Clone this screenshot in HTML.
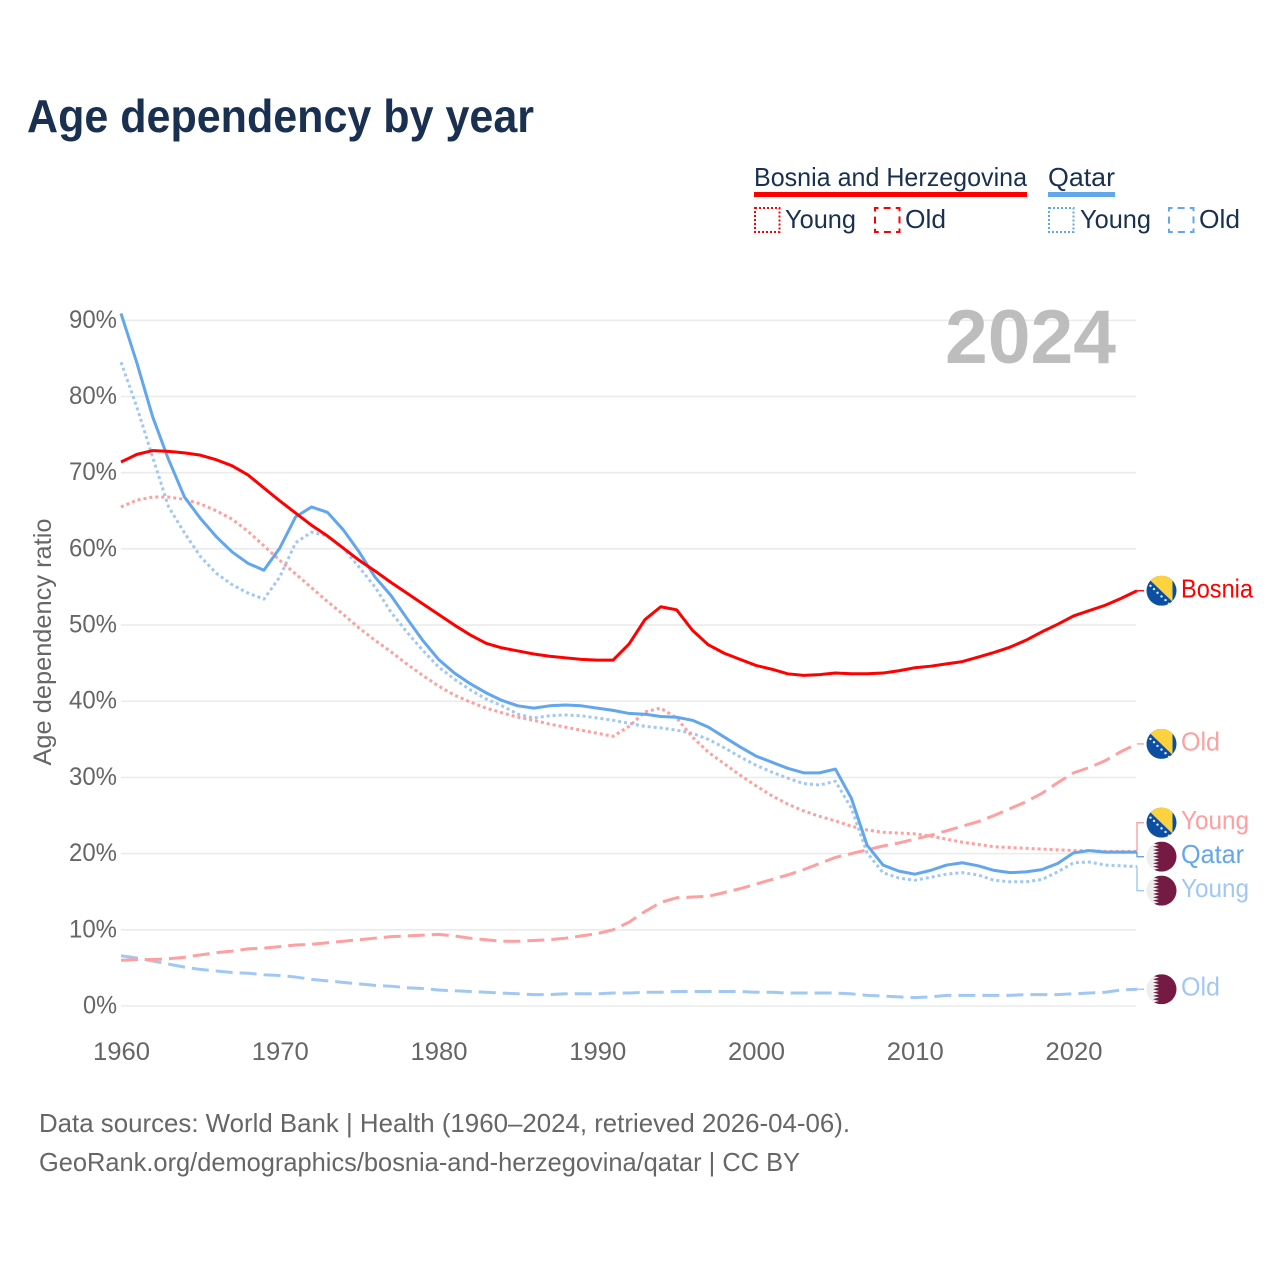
<!DOCTYPE html>
<html lang="en">
<head>
<meta charset="utf-8">
<title>Age dependency by year</title>
<style>
  html, body { margin: 0; padding: 0; background: #fff; }
  svg { display: block; font-family: "Liberation Sans", sans-serif; }
</style>
</head>
<body>
<svg id="chart" xmlns="http://www.w3.org/2000/svg" width="1280" height="1280" viewBox="0 0 1280 1280">
  <defs>
    <clipPath id="flag-clip"><circle cx="0" cy="0" r="15"/></clipPath>
    <g id="flag-bosnia" clip-path="url(#flag-clip)">
      <rect x="-15" y="-15" width="30" height="30" fill="#0b4ea2"/>
      <polygon points="-15,-14 -13,-15 11,-15 11,11" fill="#fdd23e"/>
      <g fill="#e8eef8">
        <circle cx="-11" cy="-5" r="1.2"/><circle cx="-7.5" cy="-1.7" r="1.2"/><circle cx="-4" cy="2" r="1.2"/>
        <circle cx="0" cy="5.7" r="1.2"/><circle cx="4" cy="9.3" r="1.2"/><circle cx="7.5" cy="13" r="1.2"/>
      </g>
    </g>
    <g id="flag-qatar" clip-path="url(#flag-clip)">
      <rect x="-15" y="-15" width="30" height="30" fill="#eeeeee"/>
      <polygon fill="#751a43" points="15,-15 -2.5,-15 -8.5,-13.3 -2.5,-11.7 -8.5,-10 -2.5,-8.3 -8.5,-6.7 -2.5,-5 -8.5,-3.3 -2.5,-1.7 -8.5,0 -2.5,1.7 -8.5,3.3 -2.5,5 -8.5,6.7 -2.5,8.3 -8.5,10 -2.5,11.7 -8.5,13.3 -2.5,15 15,15"/>
    </g>
  </defs>

  <text x="27" y="132" font-size="46" font-weight="700" fill="#1a3050" textLength="507" lengthAdjust="spacingAndGlyphs">Age dependency by year</text>

  <g>
    <text x="754" y="186" font-size="26" fill="#1a3050" textLength="273" lengthAdjust="spacingAndGlyphs">Bosnia and Herzegovina</text>
    <rect x="754" y="192" width="273" height="5" fill="#ff0000"/>
    <text x="1048" y="186" font-size="26" fill="#1a3050" textLength="67" lengthAdjust="spacingAndGlyphs">Qatar</text>
    <rect x="1048" y="192" width="67" height="5" fill="#62a6ec"/>

    <rect x="755" y="208" width="24.5" height="24" fill="none" stroke="#ff0000" stroke-width="2" stroke-dasharray="2 2"/>
    <text x="785" y="228" font-size="26" fill="#1a3050" textLength="71" lengthAdjust="spacingAndGlyphs">Young</text>
    <rect x="875" y="208" width="24.5" height="24" fill="none" stroke="#ff0000" stroke-width="2" stroke-dasharray="7 5.12" stroke-dashoffset="3.5"/>
    <text x="905" y="228" font-size="26" fill="#1a3050" textLength="41" lengthAdjust="spacingAndGlyphs">Old</text>

    <rect x="1049" y="208" width="24.5" height="24" fill="none" stroke="#62a6ec" stroke-width="2" stroke-dasharray="2 2"/>
    <text x="1080" y="228" font-size="26" fill="#1a3050" textLength="71" lengthAdjust="spacingAndGlyphs">Young</text>
    <rect x="1169" y="208" width="24.5" height="24" fill="none" stroke="#62a6ec" stroke-width="2" stroke-dasharray="7 5.12" stroke-dashoffset="3.5"/>
    <text x="1199" y="228" font-size="26" fill="#1a3050" textLength="41" lengthAdjust="spacingAndGlyphs">Old</text>
  </g>

  <g id="grid"></g>
  <g id="y-ticks"></g>
  <g id="x-ticks"></g>

  <text transform="translate(51 642) rotate(-90)" text-anchor="middle" font-size="25" fill="#666666" textLength="247" lengthAdjust="spacingAndGlyphs">Age dependency ratio</text>

  <text x="945" y="363" font-size="76" font-weight="700" fill="#bdbdbd" textLength="171" lengthAdjust="spacingAndGlyphs">2024</text>

  <g id="series"></g>
  <g id="end-labels"></g>

  <text x="39" y="1132" font-size="26" fill="#666666" textLength="811" lengthAdjust="spacingAndGlyphs">Data sources: World Bank | Health (1960–2024, retrieved 2026-04-06).</text>
  <text x="39" y="1171" font-size="26" fill="#666666" textLength="761" lengthAdjust="spacingAndGlyphs">GeoRank.org/demographics/bosnia-and-herzegovina/qatar | CC BY</text>
</svg>

<script>
const startYear = 1960;
const endYear = 2024;
const yTickValues = [0, 10, 20, 30, 40, 50, 60, 70, 80, 90];
const xTickValues = [1960, 1970, 1980, 1990, 2000, 2010, 2020];

const bosniaTotal = [
  71.4, 72.4, 72.9, 72.8, 72.6, 72.3, 71.7, 70.9, 69.7, 68.0,
  66.3, 64.7, 63.1, 61.7, 60.1, 58.5, 57.1, 55.6, 54.2, 52.8,
  51.4, 50.0, 48.7, 47.6, 47.0, 46.6, 46.2, 45.9, 45.7, 45.5,
  45.4, 45.4, 47.5, 50.7, 52.4, 52.0, 49.3, 47.4, 46.3, 45.5,
  44.7, 44.2, 43.6, 43.4, 43.5, 43.7, 43.6, 43.6, 43.7, 44.0,
  44.4, 44.6, 44.9, 45.2, 45.8, 46.4, 47.1, 48.0, 49.1, 50.1,
  51.2, 51.9, 52.6, 53.5, 54.5
];
const bosniaYoung = [
  65.5, 66.4, 66.8, 66.8, 66.5, 65.9, 65.0, 63.9, 62.3, 60.4,
  58.5, 56.7, 54.9, 53.1, 51.4, 49.6, 48.0, 46.5, 44.9, 43.4,
  42.0, 40.8, 39.9, 39.1, 38.5, 37.9, 37.5, 37.0, 36.6, 36.2,
  35.8, 35.4, 36.7, 38.6, 39.1, 37.8, 35.3, 33.3, 31.8, 30.3,
  28.9, 27.6, 26.5, 25.6, 24.9, 24.3, 23.6, 23.1, 22.8, 22.7,
  22.6, 22.3, 21.9, 21.5, 21.2, 20.9, 20.8, 20.7, 20.6, 20.5,
  20.4, 20.4, 20.3, 20.3, 20.3
];
const bosniaOld = [
  6.0, 6.1, 6.1, 6.2, 6.4, 6.7, 7.0, 7.2, 7.5, 7.6,
  7.8, 8.0, 8.1, 8.3, 8.5, 8.7, 8.9, 9.1, 9.2, 9.3,
  9.4, 9.2, 8.9, 8.7, 8.5, 8.5, 8.6, 8.7, 8.9, 9.2,
  9.5, 10.0, 11.0, 12.4, 13.6, 14.2, 14.3, 14.4, 14.9, 15.4,
  16.0, 16.6, 17.2, 17.9, 18.7, 19.5, 20.0, 20.5, 21.0, 21.4,
  21.9, 22.4, 23.0, 23.6, 24.2, 25.0, 25.9, 26.8, 27.9, 29.3,
  30.6, 31.3, 32.2, 33.4, 34.4
];
const qatarTotal = [
  90.9, 84.4, 77.3, 71.7, 66.8, 64.0, 61.6, 59.6, 58.1, 57.2,
  60.1, 64.2, 65.5, 64.8, 62.5, 59.6, 56.3, 53.9, 50.9, 48.0,
  45.5, 43.7, 42.3, 41.1, 40.1, 39.4, 39.1, 39.4, 39.5, 39.4,
  39.1, 38.8, 38.4, 38.3, 38.0, 37.9, 37.5, 36.6, 35.3, 34.0,
  32.8, 32.0, 31.2, 30.6, 30.6, 31.1, 27.3, 21.1, 18.5, 17.7,
  17.3, 17.8, 18.5, 18.8, 18.4, 17.8, 17.5, 17.6, 17.9, 18.7,
  20.1, 20.4, 20.2, 20.2, 20.2
];
const qatarYoung = [
  84.5, 78.6, 72.0, 65.5, 62.1, 59.0, 56.8, 55.3, 54.2, 53.4,
  56.3, 60.8, 62.2, 61.7, 60.1, 57.6, 55.0, 51.7, 49.1, 46.7,
  44.5, 42.9, 41.5, 40.3, 39.4, 38.3, 37.8, 38.1, 38.2, 38.1,
  37.8, 37.5, 37.1, 36.7, 36.5, 36.2, 35.8, 35.0, 33.9, 32.7,
  31.6, 30.7, 29.9, 29.2, 29.0, 29.5, 26.0, 20.1, 17.5, 16.8,
  16.5, 16.9, 17.3, 17.5, 17.2, 16.5, 16.3, 16.3, 16.6, 17.6,
  18.8, 18.9, 18.5, 18.4, 18.3
];
const qatarOld = [
  6.6, 6.3, 5.9, 5.5, 5.1, 4.8, 4.6, 4.4, 4.3, 4.1,
  4.0, 3.8, 3.5, 3.3, 3.1, 2.9, 2.7, 2.6, 2.4, 2.3,
  2.1, 2.0, 1.9, 1.8, 1.7, 1.6, 1.5, 1.5, 1.6, 1.6,
  1.6, 1.7, 1.7, 1.8, 1.8, 1.9, 1.9, 1.9, 1.9, 1.9,
  1.8, 1.8, 1.7, 1.7, 1.7, 1.7, 1.6, 1.4, 1.3, 1.2,
  1.1, 1.2, 1.4, 1.4, 1.4, 1.4, 1.4, 1.5, 1.5, 1.5,
  1.6, 1.7, 1.8, 2.1, 2.2
];

const SVG_NS = 'http://www.w3.org/2000/svg';
function xScale(year) { return 121 + (year - startYear) * (1137 - 121) / (endYear - startYear); }
function yScale(value) { return 1006 - value * 7.619; }
function make(tag, attrs, parent) {
  const el = document.createElementNS(SVG_NS, tag);
  Object.keys(attrs).forEach(function (k) { el.setAttribute(k, attrs[k]); });
  parent.appendChild(el);
  return el;
}

const gridGroup = document.getElementById('grid');
const yTickGroup = document.getElementById('y-ticks');
yTickValues.forEach(function (v) {
  const line = make('line', { x1: 121, x2: 1136, y1: yScale(v), y2: yScale(v), stroke: '#ebebeb', 'stroke-width': 1.6 }, gridGroup);
  
  
  const tickWidth = String(v).length === 1 ? 34 : 48;
  const label = make('text', { x: 117, y: yScale(v) + 7.5, 'text-anchor': 'end', 'font-size': 25, fill: '#666666', textLength: tickWidth, lengthAdjust: 'spacingAndGlyphs' }, yTickGroup);
  label.textContent = v + '%';
  
  
});

const xTickGroup = document.getElementById('x-ticks');
xTickValues.forEach(function (year) {
  const label = make('text', { x: xScale(year) + 0.5, y: 1060, 'text-anchor': 'middle', 'font-size': 25, fill: '#666666', textLength: 57, lengthAdjust: 'spacingAndGlyphs' }, xTickGroup);
  label.textContent = year;
  
  
});

const DOTTED = '3 3';
const DASHED = '17 7';
const seriesDefs = [
  { key: 'qatar-old', values: qatarOld, color: '#a1c8f3', dash: DASHED, width: 3, label: 'Old', flag: 'flag-qatar', labelWidth: 39 },
  { key: 'bosnia-old', values: bosniaOld, color: '#ff9f9f', dash: DASHED, width: 3, label: 'Old', flag: 'flag-bosnia', labelWidth: 39 },
  { key: 'qatar-young', values: qatarYoung, color: '#a1c8f3', dash: DOTTED, width: 3, label: 'Young', flag: 'flag-qatar', labelWidth: 68 },
  { key: 'bosnia-young', values: bosniaYoung, color: '#ff9f9f', dash: DOTTED, width: 3, label: 'Young', flag: 'flag-bosnia', labelWidth: 68 },
  { key: 'qatar-total', values: qatarTotal, color: '#62a6ec', dash: null, width: 3, label: 'Qatar', flag: 'flag-qatar', labelWidth: 63 },
  { key: 'bosnia-total', values: bosniaTotal, color: '#ff0000', dash: null, width: 3, label: 'Bosnia', flag: 'flag-bosnia', labelWidth: 72 }
];

const seriesGroup = document.getElementById('series');
seriesDefs.forEach(function (s) {
  const d = s.values.map(function (v, i) {
    return (i ? 'L' : 'M') + xScale(startYear + i).toFixed(2) + ' ' + yScale(v).toFixed(2);
  }).join(' ');
  const attrs = { d: d, fill: 'none', stroke: s.color, 'stroke-width': s.width, 'stroke-linejoin': 'round' };
  if (s.dash) attrs['stroke-dasharray'] = s.dash;
  const path = make('path', attrs, seriesGroup);
  
  
});

/* End labels: keep label spacing readable by pushing overlapping labels apart */
const LABEL_GAP = 34;
const ordered = seriesDefs.map(function (s) {
  return { s: s, lineY: yScale(s.values[s.values.length - 1]) };
}).sort(function (a, b) { return a.lineY - b.lineY; });

let clusters = ordered.map(function (o) { return { items: [o], mean: o.lineY }; });
let merged = true;
while (merged) {
  merged = false;
  for (let i = 0; i < clusters.length - 1; i++) {
    const a = clusters[i], b = clusters[i + 1];
    const aEnd = a.mean + (a.items.length - 1) * LABEL_GAP / 2;
    const bStart = b.mean - (b.items.length - 1) * LABEL_GAP / 2;
    if (bStart - aEnd < LABEL_GAP) {
      const items = a.items.concat(b.items);
      const mean = items.reduce(function (t, o) { return t + o.lineY; }, 0) / items.length;
      clusters.splice(i, 2, { items: items, mean: mean });
      merged = true;
      break;
    }
  }
}

const labelGroup = document.getElementById('end-labels');
const endX = xScale(endYear);
clusters.forEach(function (c) {
  c.items.forEach(function (o, i) {
    const labelY = c.mean + (i - (c.items.length - 1) / 2) * LABEL_GAP;
    const s = o.s;
    const connector = make('path', {
      d: 'M' + endX + ' ' + o.lineY + ' V' + labelY + ' H' + (endX + 7),
      fill: 'none', stroke: s.color, 'stroke-width': 1.4
    }, labelGroup);
    
    

    const flag = make('use', { href: '#' + s.flag, transform: 'translate(1161.5 ' + labelY + ')' }, labelGroup);
    
    

    const text = make('text', {
      x: 1181, y: labelY + 6.5, 'font-size': 26, fill: s.color,
      textLength: s.labelWidth, lengthAdjust: 'spacingAndGlyphs'
    }, labelGroup);
    text.textContent = s.label;
    
    
  });
});
</script>
</body>
</html>
